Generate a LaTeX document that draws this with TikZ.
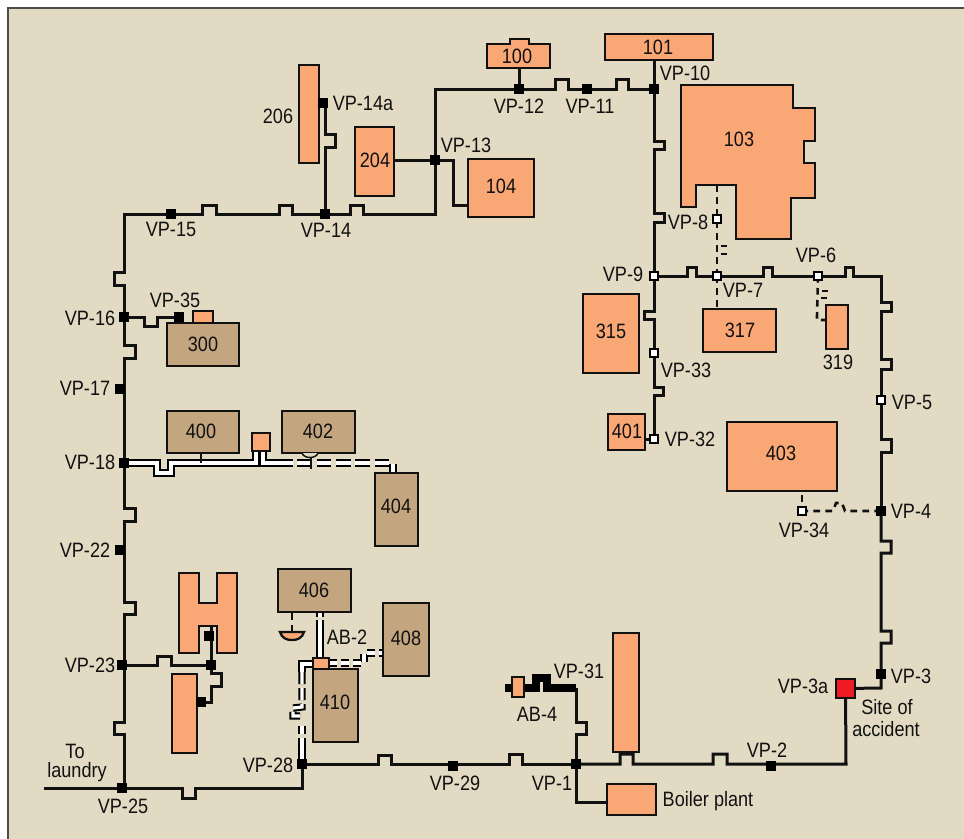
\documentclass[tikz,border=0pt]{standalone}
\usepackage{fontspec}
\setmainfont[FakeStretch=0.87]{Liberation Sans}
\definecolor{paper}{HTML}{E3DAC3}
\definecolor{orng}{HTML}{F9A875}
\definecolor{tan2}{HTML}{C3A57F}
\definecolor{redd}{HTML}{ED1C24}
\definecolor{ink}{HTML}{111111}
\pgfdeclarelayer{bg}
\pgfdeclarelayer{pipes}
\pgfsetlayers{bg,pipes,main}
\tikzset{
  lab/.style={inner sep=0pt,text=ink,font=\fontsize{15.6}{18}\selectfont},
  pipe/.style={draw=ink,line width=2.25pt,miter limit=10},
  dashpipe/.style={draw=ink,line width=1.9pt,dash pattern=on 5pt off 4pt},
  thickpipe/.style={draw=black,line width=5.4pt},
  dbl/.style={draw=black,line width=1.5pt,double=white,double distance=2.4pt},
  dbldash/.style={dbl,dash pattern=on 11pt off 3.5pt},
  bldg/.style={draw=ink,line width=1.7pt,inner sep=0pt},
  ob/.style={bldg,fill=orng},
  tb/.style={bldg,fill=tan2},
  jb/.style={draw=black,fill=black,line width=0pt,minimum size=6.8pt,inner sep=0pt},
  jw/.style={draw=black,fill=white,line width=1.5pt,minimum size=6.6pt,inner sep=0pt},
}
\newcommand{\bx}[6]{\node[#2,minimum width={(#5-#3)*0.75pt},minimum height={(#6-#4)*0.75pt}] (#1) at ({(#3+#5)/2},{(#4+#6)/2}) {};}
\newcommand{\lb}[4]{\node[lab] (#1) at (#2,#3) {#4};}
\begin{document}
\begin{tikzpicture}[x=0.75pt,y=-0.75pt]
\useasboundingbox (0,0) rectangle (964,839);
\begin{pgfonlayer}{bg}
\fill[white] (0,0) rectangle (964,839);
\fill[paper] (8,8) rectangle (964,839);
\draw[draw=black!70,line width=1.1pt] (8,839) -- (8,8) -- (964,8);
\end{pgfonlayer}

% buildings
\bx{b101}{ob}{605}{34}{713}{60}
\bx{b104}{ob}{468}{159}{534}{217}
\bx{b204}{ob}{355}{127}{394}{196}
\bx{b206}{ob}{299}{65}{319}{163}
\bx{b315}{ob}{583}{294}{639}{373}
\bx{b317}{ob}{703}{309}{776}{352}
\bx{b319}{ob}{826}{305}{848}{349}
\bx{b401}{ob}{608}{414}{645}{450}
\bx{b403}{ob}{727}{422}{837}{491}
\bx{bsmall}{ob}{193}{311}{213}{323}
\bx{b300}{tb}{167}{323}{239}{366}
\bx{b400}{tb}{167}{411}{239}{453}
\bx{b402}{tb}{282}{411}{355}{453}
\bx{b404}{tb}{375}{473}{418}{546}
\bx{bo18}{ob}{252}{433}{270}{451}
\bx{b406}{tb}{278}{569}{351}{612}
\bx{b408}{tb}{383}{603}{429}{676}
\bx{b410}{tb}{313}{669}{358}{742}
\bx{bo410}{ob}{313}{658}{329}{669}
\bx{bl23}{ob}{172}{674}{197}{753}
\bx{btall}{ob}{613}{633}{639}{752}
\bx{bboil}{ob}{607}{784}{656}{815}
\bx{bab4}{ob}{512}{677}{524}{697}
\bx{site}{bldg,fill=redd}{836}{679}{855}{698}
% polygons
\draw[ob] (487,44) -- (510,44) -- (510,39) -- (529,39) -- (529,44) -- (550,44) -- (550,68) -- (487,68) -- cycle;
\coordinate (b100s) at (520,68);
\draw[ob] (681,85) -- (793,85) -- (793,108) -- (815,108) -- (815,141) -- (804,141) -- (804,163) -- (815,163) -- (815,198) -- (791,198) -- (791,239) -- (736,239) -- (736,185) -- (696,185) -- (696,207) -- (681,207) -- cycle;
\coordinate (b103s) at (717,185);
\draw[ob] (179,573) -- (199,573) -- (199,603) -- (217,603) -- (217,573) -- (237,573) -- (237,653) -- (217,653) -- (217,626) -- (199,626) -- (199,653) -- (179,653) -- cycle;
\coordinate (bHs) at (211,626);
\draw[ob] (280,632) -- (304,632) .. controls (302,638) and (298,640) .. (292,640) .. controls (286,640) and (282,638) .. (280,632) -- cycle;
\coordinate (dome) at (292,632);
\draw[draw=ink,line width=1.1pt,fill=paper] (302,453) .. controls (304,459) and (316,459) .. (318,453);

% junctions
\node[jb] (vp1) at (576,764) {};
\node[jb] (vp2) at (771,766) {};
\node[jb] (vp3) at (881,674) {};
\node[jb] (vp4) at (881,511) {};
\node[jw] (vp5) at (881,400) {};
\node[jw] (vp6) at (818,276) {};
\node[jw] (vp7) at (717,276) {};
\node[jw] (vp8) at (717,219) {};
\node[jw] (vp9) at (654,276) {};
\node[jb] (vp10) at (654,89) {};
\node[jb] (vp11) at (587,89) {};
\node[jb] (vp12) at (519,89) {};
\node[jb] (vp13) at (435,160) {};
\node[jb] (vp14) at (325,214) {};
\node[jb] (vp14a) at (323,103) {};
\node[jb] (vp15) at (171,214) {};
\node[jb] (vp16) at (124,317) {};
\node[jb] (vp17) at (120,389) {};
\node[jb] (vp18) at (124,463) {};
\node[jb] (vp22) at (120,550) {};
\node[jb] (vp23) at (122,665) {};
\node[jb] (vp25) at (122,788) {};
\node[jb] (vp28) at (302,764) {};
\node[jb] (vp29) at (453,766) {};
\node[jw] (vp32) at (654,439) {};
\node[jw] (vp33) at (654,353) {};
\node[jw] (vp34) at (802,511) {};
\node[jb] (vp35) at (179,317) {};
\node[jb] (j23) at (211,665) {};
\node[jb] (jH) at (209,636) {};
\node[jb] (jrect) at (201,702) {};
\coordinate (laundry) at (44,788);
\coordinate (vp31) at (576,688);
\coordinate (ab4) at (505,688);

\begin{pgfonlayer}{pipes}
\draw[pipe] (vp10.center) -- (628,89) -- (628,79) -- (616,79) -- (616,89) -- (vp11.center) -- (568,89) -- (568,79) -- (555,79) -- (555,89) -- (vp12.center) -- (435,89) -- (vp13.center);
\draw[pipe] (vp13.center) -- (435,214) -- (363,214) -- (363,205) -- (350,205) -- (350,214) -- (vp14.center);
\draw[pipe] (vp14.center) -- (292,214) -- (292,205) -- (279,205) -- (279,214) -- (216,214) -- (216,205) -- (202,205) -- (202,214) -- (vp15.center);
\draw[pipe] (vp15.center) -- (124,214) -- (124,272) -- (114,272) -- (114,285) -- (124,285) -- (vp16.center);
\draw[pipe] (vp16.center) -- (124,345) -- (135,345) -- (135,358) -- (124,358) -- (124,463) -- (vp18.center);
\draw[pipe] (vp18.center) -- (124,508) -- (135,508) -- (135,521) -- (124,521) -- (124,602) -- (135,602) -- (135,614) -- (124,614) -- (124,665) -- (124,722) -- (114,722) -- (114,734) -- (124,734) -- (124,788);
\draw[pipe] (laundry) -- (vp25.center) -- (182,788) -- (182,798) -- (195,798) -- (195,788) -- (302,788) -- (vp28.center);
\draw[pipe] (vp28.center) -- (378,764) -- (378,755) -- (391,755) -- (391,764) -- (509,764) -- (509,754) -- (522,754) -- (522,764) -- (vp1.center);
\draw[pipe] (vp1.center) -- (620,764) -- (620,754) -- (633,754) -- (633,764) -- (713,764) -- (713,754) -- (727,754) -- (727,764) -- (846,764) -- (site.center);
\draw[pipe] (site.center) -- (881,688) -- (881,643) -- (891,643) -- (891,631) -- (881,631) -- (881,553) -- (891,553) -- (891,541) -- (881,541) -- (vp4.center);
\draw[pipe] (vp4.center) -- (881,452) -- (891,452) -- (891,439) -- (881,439) -- (vp5.center);
\draw[pipe] (vp5.center) -- (881,369) -- (891,369) -- (891,359) -- (881,359) -- (881,311) -- (891,311) -- (891,302) -- (881,302) -- (881,276) -- (853,276) -- (853,267) -- (845,267) -- (845,276) -- (vp6.center);
\draw[pipe] (vp6.center) -- (772,276) -- (772,267) -- (763,267) -- (763,276) -- (vp7.center);
\draw[pipe] (vp7.center) -- (696,276) -- (696,267) -- (687,267) -- (687,276) -- (vp9.center);
\draw[pipe] (vp9.center) -- (654,222) -- (664,222) -- (664,213) -- (654,213) -- (654,149) -- (664,149) -- (664,141) -- (654,141) -- (vp10.center);
\draw[pipe] (vp10.center) -- (654,60);
\draw[pipe] (vp9.center) -- (654,311) -- (644,311) -- (644,319) -- (654,319) -- (vp33.center);
\draw[pipe] (vp33.center) -- (654,387) -- (663,387) -- (663,395) -- (654,395) -- (vp32.center);
\draw[pipe] (vp32.center) -- (645,439);
\draw[pipe] (vp12.center |- b100s) -- (vp12.center);
\draw[pipe] (394,160) -- (vp13.center);
\draw[pipe] (vp13.center) -- (453,160) -- (453,205) -- (468,205);
\draw[pipe] (vp14.center) -- (325,147) -- (335,147) -- (335,134) -- (325,134) -- (325,103) -- (vp14a.center);
\draw[pipe] (vp16.center) -- (144,317) -- (144,326) -- (157,326) -- (157,317) -- (vp35.center);
\draw[pipe] (vp23.center) -- (157,665) -- (157,656) -- (171,656) -- (171,665) -- (j23.center);
\draw[pipe] (bHs) -- (j23.center) -- (211,673) -- (221,673) -- (221,686) -- (211,686) -- (211,702) -- (jrect.center);
\draw[pipe] (vp1.center) -- (576,734) -- (586,734) -- (586,722) -- (576,722) -- (vp31);
\draw[pipe] (vp1.center) -- (576,802) -- (607,802);
\draw[thickpipe] (ab4) -- (536,688) -- (536,678) -- (547,678) -- (547,688) -- (vp31);
% dashed
\draw[dashpipe] (b103s) -- (vp8.center) -- (vp7.center);
\draw[dashpipe] (vp7.center) -- (717,309);
\draw[pipe,line width=1.4pt] (721,246) -- (727,246) (721,254) -- (727,254);
\draw[dashpipe] (vp6.center) -- (817,315) -- (817,320) -- (826,320);
\draw[pipe,line width=1.4pt] (822,291) -- (828,291) (821,298) -- (827,298);
\draw[dashpipe] (vp4.center) -- (845,511) -- (842,503) -- (836,503) -- (833,511) -- (vp34.center);
\draw[pipe,line width=1.4pt] (802,495) -- (802,502);
% double lines
\draw[dbl] (vp18.center) -- (157,463) -- (157,473) -- (171,473) -- (171,463) -- (256,463) -- (256,451);
\draw[pipe,line width=1.4pt] (201,453) -- (201,463);
\draw[dbl] (263,451) -- (263,463) -- (278,463);
\draw[dbldash] (278,463) -- (393,463) -- (393,473);
\draw[pipe,line width=1.4pt] (311,458) -- (311,469);
\draw[dashpipe,line width=1.4pt] (dome) -- (292,612);
\draw[dbl] (320,658) -- (320,625);
\draw[dbldash,dash pattern=on 4pt off 2pt] (320,625) -- (320,612);
\draw[dbldash,dash pattern=on 6pt off 3pt] (329,663) -- (364,663) -- (364,653) -- (383,653);
\draw[dbl] (313,664) -- (302,664) -- (302,672);
\draw[dbldash,dash pattern=on 9pt off 3pt] (302,672) -- (302,707) -- (293,708) -- (293,716) -- (300,716);
\draw[dbldash,dash pattern=on 6pt off 3pt] (302,726) -- (302,745);
\draw[dbl] (302,745) -- (vp28.center);
\end{pgfonlayer}

% labels
\lb{t100}{517}{56}{100}
\lb{t101}{658}{47}{101}
\lb{t103}{739}{139}{103}
\lb{t104}{501}{186}{104}
\lb{t204}{375}{160}{204}
\lb{t300}{203}{344}{300}
\lb{t315}{611}{331}{315}
\lb{t317}{740}{330}{317}
\lb{t400}{201}{431}{400}
\lb{t401}{627}{431}{401}
\lb{t402}{318}{431}{402}
\lb{t403}{781}{453}{403}
\lb{t404}{396}{506}{404}
\lb{t406}{314}{590}{406}
\lb{t408}{406}{638}{408}
\lb{t410}{335}{702}{410}
\lb{l206}{278}{116}{206}
\lb{l14a}{363}{103}{VP-14a}
\lb{l13}{466}{145}{VP-13}
\lb{l12}{519}{106}{VP-12}
\lb{l11}{590}{106}{VP-11}
\lb{l10}{685}{73}{VP-10}
\lb{l8}{688}{222}{VP-8}
\lb{l15}{171}{229}{VP-15}
\lb{l14}{326}{230}{VP-14}
\lb{l16}{90}{318}{VP-16}
\lb{l35}{175}{300}{VP-35}
\lb{l9}{623}{274}{VP-9}
\lb{l7}{743}{290}{VP-7}
\lb{l6}{816}{255}{VP-6}
\lb{l319}{838}{362}{319}
\lb{l33}{686}{370}{VP-33}
\lb{l5}{912}{402}{VP-5}
\lb{l32}{690}{439}{VP-32}
\lb{l34}{804}{530}{VP-34}
\lb{l4}{911}{511}{VP-4}
\lb{l17}{85}{388}{VP-17}
\lb{l18}{90}{462}{VP-18}
\lb{l22}{85}{550}{VP-22}
\lb{lab2}{347}{637}{AB-2}
\lb{l23}{90}{665}{VP-23}
\lb{l31}{579}{671}{VP-31}
\lb{lab4}{537}{714}{AB-4}
\lb{l3a}{803}{686}{VP-3a}
\lb{l3}{911}{676}{VP-3}
\lb{lsite}{887}{707}{Site of}
\lb{lacc}{886}{729}{accident}
\lb{l2}{767}{750}{VP-2}
\lb{l28}{268}{765}{VP-28}
\lb{l29}{455}{783}{VP-29}
\lb{l1}{552}{783}{VP-1}
\lb{lboil}{708}{801}{Boiler plant}
\lb{l25}{123}{806}{VP-25}
\lb{lto}{75}{751}{To}
\lb{llau}{77}{772}{laundry}
\end{tikzpicture}
\end{document}
